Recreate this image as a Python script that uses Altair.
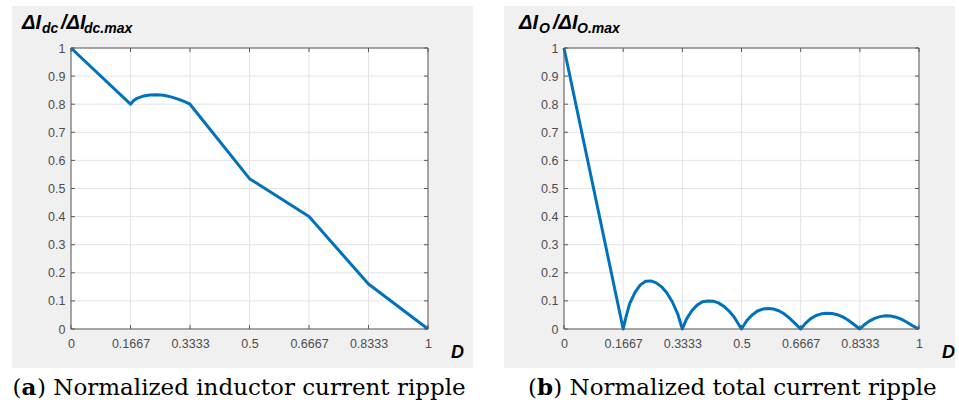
import altair as alt
import pandas as pd

# ---- data ----
D_a = [0, 0.1667, 0.175, 0.185, 0.2, 0.22, 0.24, 0.26, 0.28, 0.30, 0.32, 0.3333, 0.5, 0.6667, 0.8333, 1]
R_a = [1, 0.8, 0.812, 0.821, 0.828, 0.833, 0.834, 0.832, 0.826, 0.818, 0.808, 0.8, 0.535, 0.4, 0.16, 0]

D_b = [0,
       0.1667, 0.175, 0.185, 0.2, 0.215, 0.23, 0.245, 0.26, 0.275, 0.29, 0.305, 0.32,
       0.3333, 0.345, 0.36, 0.375, 0.39, 0.405, 0.42, 0.435, 0.45, 0.465, 0.48,
       0.5, 0.515, 0.53, 0.545, 0.56, 0.575, 0.59, 0.605, 0.62, 0.635, 0.65,
       0.6667, 0.68, 0.695, 0.71, 0.725, 0.74, 0.755, 0.77, 0.785, 0.8, 0.815,
       0.8333, 0.845, 0.86, 0.875, 0.89, 0.905, 0.92, 0.935, 0.95, 0.965, 0.98, 1]
R_b = [1,
       0, 0.045, 0.09, 0.13, 0.157, 0.17, 0.171, 0.164, 0.15, 0.128, 0.097, 0.055,
       0, 0.035, 0.065, 0.085, 0.097, 0.1, 0.099, 0.093, 0.081, 0.064, 0.041,
       0, 0.03, 0.05, 0.064, 0.071, 0.073, 0.071, 0.065, 0.054, 0.039, 0.021,
       0, 0.02, 0.037, 0.048, 0.054, 0.056, 0.055, 0.051, 0.043, 0.032, 0.018,
       0, 0.014, 0.028, 0.038, 0.044, 0.047, 0.046, 0.042, 0.035, 0.025, 0.013, 0]

x_ticks = [0, 1/6, 1/3, 0.5, 2/3, 5/6, 1]
y_ticks = [0, 0.1, 0.2, 0.3, 0.4, 0.5, 0.6, 0.7, 0.8, 0.9, 1]

title_a = [("ΔI", 20), ("dc", 14), ("/ΔI", 20), ("dc.max", 14)]
title_b = [("ΔI", 20), ("O", 14), ("/ΔI", 20), ("O.max", 14)]
caption_a = ["(", "a", ") Normalized inductor current ripple"]
caption_b = ["(", "b", ") Normalized total current ripple"]

H = 281
BOX = "#5a5a5a"
GRID = "#e3e3e3"
LABEL = "#4d4d4d"
PANEL = "#f0f0f0"
BLUE = "#0072BD"
SANS = "Liberation Sans"
SERIF = "DejaVu Serif"

one = pd.DataFrame({"k": [0]})


def sc():
    return alt.Scale(domain=[0, 1], nice=False, zero=False)


def xaxis():
    return alt.Axis(values=x_ticks, format=".4~f", grid=False, ticks=False, tickSize=0,
                    domain=False, labelFont=SANS, labelFontSize=12.5, labelColor=LABEL,
                    labelPadding=8, zindex=1, labelFlush=False, title=None)


def yaxis():
    return alt.Axis(values=y_ticks, format="~g", grid=False, ticks=False, tickSize=0,
                    domain=False, labelFont=SANS, labelFontSize=12.5, labelColor=LABEL,
                    labelPadding=6, zindex=1, labelFlush=False, title=None)


def X(f):
    return alt.X(f, scale=sc(), axis=xaxis(), title=None)


def Y(f):
    return alt.Y(f, scale=sc(), axis=yaxis(), title=None)


def panel(D, R, W, gray, title, title_x, caption, cap_x):
    df = pd.DataFrame({"D": D, "R": R})
    xt = pd.DataFrame({"v": x_ticks})
    yt = pd.DataFrame({"v": y_ticks})
    layers = []
    line = alt.Chart(df).mark_line(color=BLUE, strokeWidth=3, strokeJoin="round").encode(
        x=X("D:Q"), y=Y("R:Q"), order="index:Q",
    ).transform_window(index="row_number()")
    # grey panel background
    layers.append(alt.Chart(one).mark_rect(color=PANEL).encode(
        x=alt.value(gray[0]), x2=alt.value(gray[1]),
        y=alt.value(-42), y2=alt.value(320)))
    # white plot area
    layers.append(alt.Chart(one).mark_rect(color="white").encode(
        x=alt.value(0), x2=alt.value(W), y=alt.value(0), y2=alt.value(H)))
    # grid
    layers.append(alt.Chart(xt).mark_rule(color=GRID, strokeWidth=1).encode(x=X("v:Q")))
    layers.append(alt.Chart(yt).mark_rule(color=GRID, strokeWidth=1).encode(y=Y("v:Q")))
    # inward ticks
    layers.append(alt.Chart(xt).mark_rule(color=BOX).encode(
        x=X("v:Q"), y=alt.value(H), y2=alt.value(H - 4)))
    layers.append(alt.Chart(xt).mark_rule(color=BOX).encode(
        x=X("v:Q"), y=alt.value(0), y2=alt.value(4)))
    layers.append(alt.Chart(yt).mark_rule(color=BOX).encode(
        y=Y("v:Q"), x=alt.value(0), x2=alt.value(4)))
    layers.append(alt.Chart(yt).mark_rule(color=BOX).encode(
        y=Y("v:Q"), x=alt.value(W), x2=alt.value(W - 4)))
    layers.append(line)
    # box
    layers.append(alt.Chart(one).mark_rect(fillOpacity=0, stroke=BOX, strokeWidth=1).encode(
        x=alt.value(0), x2=alt.value(W), y=alt.value(0), y2=alt.value(H)))
    # title pieces
    for (txt, size), xv in zip(title, title_x):
        dy = -19 if size > 15 else -15
        layers.append(alt.Chart(one).mark_text(
            text=txt, font=SANS, fontSize=size, fontWeight="bold", fontStyle="italic",
            align="left", baseline="alphabetic", color="black").encode(
            x=alt.value(xv), y=alt.value(dy)))
    # D label
    layers.append(alt.Chart(one).mark_text(
        text="D", font=SANS, fontSize=18, fontWeight="bold", fontStyle="italic",
        align="left", baseline="alphabetic", color="black").encode(
        x=alt.value(W + 23), y=alt.value(310)))
    # caption
    for i, (txt, xv) in enumerate(zip(caption, cap_x)):
        layers.append(alt.Chart(one).mark_text(
            text=txt, font=SERIF, fontSize=23, fontWeight="bold" if i == 1 else "normal",
            align="left", baseline="alphabetic", color="black").encode(
            x=alt.value(xv), y=alt.value(347)))
    return alt.layer(*layers).properties(width=W, height=H)


left = panel(D_a, R_a, 357, (-59, 402), title_a, [-49, -29, -10, 13], caption_a,
             [-58.5, -49.5, -34])
right = panel(D_b, R_b, 355, (-60, 391), title_b, [-45, -25, -11, 13], caption_b,
              [-36, -27, -10.7])

chart = alt.hconcat(left, right, spacing=31).properties(
    padding={"left": 12, "top": 6, "right": 0, "bottom": 0},
    background="white",
).configure_view(stroke=None)

chart.save("out.html", embed_options={"renderer": "svg", "actions": False})
